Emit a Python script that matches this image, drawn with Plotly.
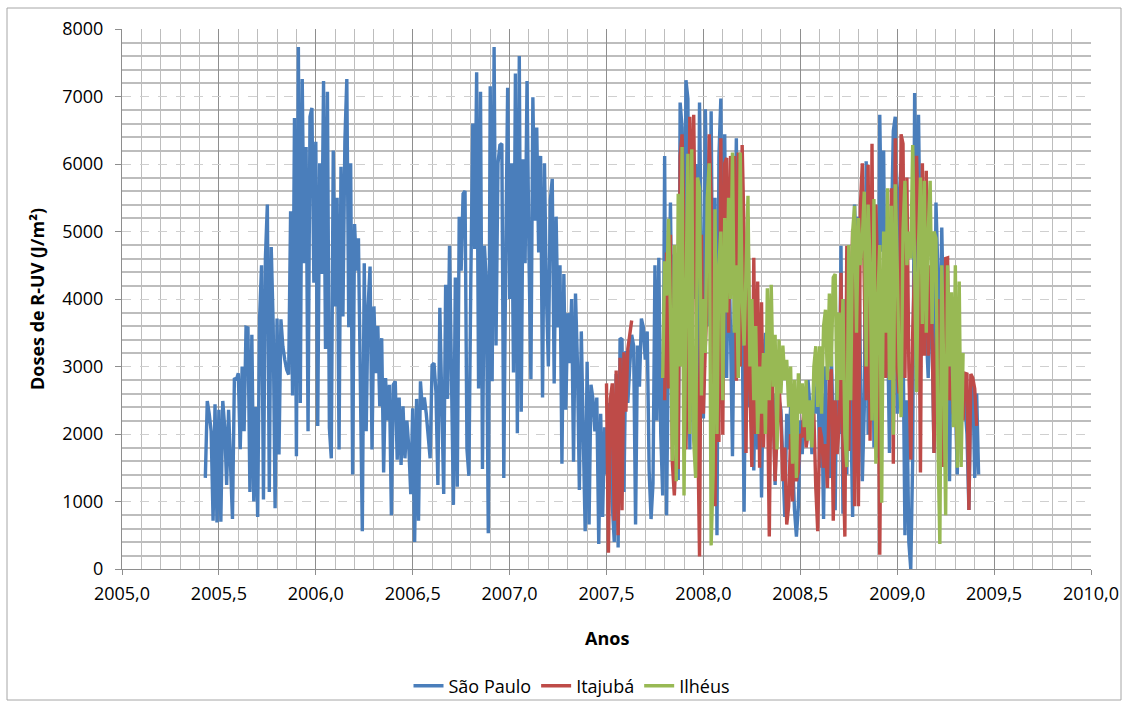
import numpy as np
import plotly.graph_objects as go

# Daily R-UV doses (J/m²), sampled every 0.01 year
STEP = 0.01

sao_paulo_start = 2005.43
sao_paulo = [
    1350, 2490, 2300, 2040, 715, 2440, 690, 2360, 700, 2490,
    2100, 1245, 2360, 1600, 740, 2830, 2800, 2900, 1775, 3000,
    2040, 3580, 3570, 1140, 3470, 1000, 2400, 770, 3710, 4500,
    1030, 4610, 5400, 1140, 4770, 3630, 900, 3710, 1695, 3700,
    3300, 3100, 2950, 2880, 5300, 2570, 6680, 1670, 7735, 2460,
    7260, 4530, 6250, 2040, 6700, 6830, 4240, 6330, 2120, 6010,
    4370, 7230, 3260, 7070, 2090,
    1640, 6200, 3890, 5500, 1770, 5960, 3740, 6330, 7260, 3580,
    6010, 1400, 5110, 4420, 4900, 3050, 560, 4530, 2040, 3900,
    4480, 1770, 3890, 2900, 3600, 2410, 3420, 1430, 2830, 2200,
    2730, 795, 2730, 2780, 1620, 2540, 1540, 2410, 1640, 2200,
    1800, 1110, 2380, 400, 2520, 715, 2780, 2360, 2540, 2300,
    1900, 1640, 3020, 3050, 2620, 1245, 3870, 2500, 1110, 4210,
    2520, 4790, 2800, 950, 4320, 1220, 5220, 4420, 5560,
    5600, 1775, 1380, 4300, 6600, 4740, 7360, 2675, 7070, 1480,
    4790, 4260, 530, 7150, 2780, 7735, 3310, 6010, 6280, 6300,
    1350, 4640, 7130, 4000, 6010, 2910, 7340, 2010, 7600, 2330,
    6070, 4530, 7230, 4640, 2810, 6990, 5160, 6540, 4690, 6120,
    2540, 6010, 4070, 3000, 5460, 5780, 2750, 5220, 3580, 4500,
    1560, 4370, 2360, 3790, 3050, 4000, 1590, 4080, 3050, 1170,
    3520, 1990, 560, 3070, 660, 2730, 2520, 2040, 2540, 370,
    2300,
    770, 2100, 1400, 2460, 1950, 950, 400, 2890, 320, 3420,
    3400, 1140, 3230, 2460, 3000, 3470, 3310, 660, 3310, 2700,
    3710, 3580, 3100, 3520, 1460, 740, 1270, 4500, 2200, 4610,
    2000, 1090, 6120, 795, 3520, 5430, 2830, 4660, 2150, 1320,
    6910, 6540, 3520, 7240, 6970, 1770, 5500, 4000, 6000, 2500,
    6910, 4500, 2230, 6810, 5050, 3600, 6780, 3000, 5500, 500,
    6100, 6970, 3800, 6440, 2830, 5000, 3500, 1670, 4160,
    6380, 3000, 6010, 3630, 850, 4000, 2400, 3500, 2730, 1460,
    3300, 1770, 3300, 1060, 3000, 3500, 2000, 2700, 2000, 2600,
    1245, 2800, 2500, 2360, 1500, 770, 2300, 1770, 2400, 1500,
    875, 480, 930, 2200, 1700, 2500, 1900, 2800, 2400, 1700,
    2700, 2300, 3000, 1500, 2600, 740, 3000, 1500, 1350, 3200,
    2200, 870, 3500, 2000, 4790, 820, 4000, 1400, 3500, 2500,
    770, 5400, 4500, 5220, 3000, 1300, 2360, 6040, 1990, 4800,
    5500, 1800, 4200, 1650, 6730, 4700, 6200, 3000, 3740, 1720,
    5000, 6490, 6700, 2300, 5500, 6000, 3500, 500, 2500, 400,
    0, 1650, 7050, 4400, 6730, 4400, 5500, 5700, 3500, 2830,
    4000, 3500, 1720, 5430, 4400, 3000, 5060, 3500, 4000, 2500,
    1300, 3800, 4000, 2500, 1400, 3050, 2500, 2800, 2300, 2000,
    875, 2700, 2810, 1350, 2600, 1400,
]

itajuba_start = 2007.50
itajuba = [
    2750, 240, 2520, 2750, 715, 2940, 500, 3130, 870, 3210,
    2330, 3260, 3470, 3680,
    None, None, None, None, None, None, None, None,
    None, None, None, None, None, None, None, None,
    2500, 4690, 2675, 4950, 1560, 1090, 1770, 1480, 6120, 6440,
    5050, 1770, 3500, 6700, 5000, 6730, 4420, 1770, 185, 4950,
    2300, 3310, 4000, 6440, 5500, 1560, 930, 4000, 1880, 6380,
    1990, 6010, 6090, 3500, 6120, 4420, 6120,
    2790, 6170, 3000, 6280, 4950, 1720, 5220, 2730, 1510, 4610,
    2000, 4260, 1500, 3950, 1800, 3000, 2800, 480, 3260, 2100,
    1300, 2000, 2750, 2200, 1300, 1800, 660, 930, 2000, 1000,
    2200, 1300, 1450, 2000, 1950, 2500, 1800, 2000, 2410, 1900,
    2300, 1200, 560, 2100, 1950, 1500, 1850, 1200, 2800, 2960,
    715, 2500, 1700, 2100, 4390, 1750, 480, 4790, 1750, 3600,
    5030, 930, 5030, 930, 5380, 6010, 3900, 2500, 5990, 1900,
    6300, 2300, 5400, 4200, 210, 3800, 4500, 2830, 4000, 2830,
    5640, 1560, 6380, 3000, 2600, 6440, 6300, 2830, 5800, 3000,
    1620, 3500, 4530, 6120, 5000, 1430, 6010, 3160, 5900, 3160,
    4500, 3500, 1720, 3300, 4000, 2200, 3500, 1510, 4600, 4610,
    2500, 2830, 2300, 2800, 1770, 2500, 2600, 2200, 2900, 2890,
    875, 2890, 2830, 2670, 2120,
]

ilheus_start = 2007.79
ilheus = [
    2830, 4560, 4050, 5190, 3790, 1600, 4800, 1300, 5560, 3000,
    6250, 1090, 4000, 6150, 2000, 6220, 1900, 1350, 5800, 5640,
    2570, 4000, 3200, 5500, 6010, 350, 1400, 5330, 2000, 4500,
    5000, 2500, 5200, 3800, 5500, 4000, 6170, 3500,
    4500, 2830, 6170, 4000, 3310, 4500, 5530, 3000, 4000, 2500,
    3600, 2000, 3000, 2300, 3200, 2000, 4160, 2500, 4210, 2700,
    3470, 1770, 3400, 2600, 3310, 2800, 3100, 2400, 3000, 1560,
    2800, 1350, 2900, 2300, 2750, 2100, 2800, 1900, 2500, 1800,
    3000, 3300, 2400, 3300, 2300, 3600, 3840, 2800, 4080, 3000,
    4320, 4370, 2500, 3800, 2800, 4000, 2000, 1510, 4800, 2500,
    5000, 5380, 3500, 5200, 4500, 4900, 5590, 3000, 5400, 4500,
    2200, 5480, 1560, 4000, 4800, 980, 5000, 3500, 5640, 2800,
    5380, 1990, 5700, 4500, 3000, 2250, 5000, 5750, 4500, 5000,
    4600, 6280, 4500, 2620, 4800, 5800, 3630, 5750, 3500, 5000,
    5750, 3630, 5000, 4900, 1900, 370, 4500, 3000, 795, 4500,
    3000, 4100, 2100, 4500, 1500, 4260, 1510, 3200,
]

series = [
    ("São Paulo", sao_paulo_start, sao_paulo, "#4A7EBB"),
    ("Itajubá", itajuba_start, itajuba, "#BE4B48"),
    ("Ilhéus", ilheus_start, ilheus, "#98B954"),
]

FONT = "Open Sans, Liberation Sans, sans-serif"
GRID_MAJOR_X = "#8E8E8E"
GRID_MINOR = "#BDBDBD"
AXIS = "#8E8E8E"

W, H = 1129, 707

fig = go.Figure()
for name, start, values, color in series:
    years = np.round(start + STEP * np.arange(len(values)), 4)
    fig.add_trace(go.Scatter(
        x=years, y=values, name=name, mode="lines",
        line=dict(color=color, width=3.4),
        connectgaps=False,
    ))

fig.update_layout(
    width=W, height=H, autosize=False,
    margin=dict(l=122, r=38, t=29, b=138, autoexpand=False),
    paper_bgcolor="white", plot_bgcolor="white",
    separators=", ",
    font=dict(family=FONT, size=18, color="#000000"),
    showlegend=True,
    legend=dict(
        orientation="h",
        xref="container", x=572 / W, xanchor="center",
        yref="container", y=1 - 686 / H, yanchor="middle",
        font=dict(size=18), itemwidth=30, tracegroupgap=0,
        bgcolor="rgba(0,0,0,0)",
    ),
)

fig.update_xaxes(
    range=[2005, 2010], tick0=2005, dtick=0.5, tickformat=".1f",
    showgrid=True, gridcolor=GRID_MAJOR_X, gridwidth=1, griddash="solid",
    minor=dict(dtick=0.1, tick0=2005, showgrid=True,
               gridcolor=GRID_MINOR, gridwidth=1, griddash="solid"),
    ticks="outside", ticklen=5, tickcolor=AXIS, tickwidth=1,
    showline=True, linecolor=AXIS, linewidth=1,
    zeroline=False, ticklabelstandoff=3,
    tickfont=dict(size=18),
)

fig.update_yaxes(
    range=[0, 8000], tick0=0, dtick=1000, tickformat="d",
    showgrid=True, gridcolor="#CFCFCF", gridwidth=1, griddash="dash",
    minor=dict(dtick=200, tick0=0, showgrid=True,
               gridcolor=GRID_MINOR, gridwidth=1.5, griddash="solid"),
    ticks="outside", ticklen=6, tickcolor=AXIS, tickwidth=1,
    showline=True, linecolor=AXIS, linewidth=1,
    zeroline=False, ticklabelstandoff=8,
    tickfont=dict(size=18),
)

# Axis titles
fig.add_annotation(
    text="<b>Anos</b>", xref="paper", yref="paper",
    x=0.5, y=-0.127, xanchor="center", yanchor="middle",
    showarrow=False, font=dict(size=18),
)
fig.add_annotation(
    text="<b>Doses de R-UV (J/m²)</b>", xref="paper", yref="paper",
    x=-0.0877, y=0.5, xanchor="center", yanchor="middle",
    textangle=-90, showarrow=False, font=dict(size=18),
)

# Chart frame
fig.add_shape(
    type="rect", xref="paper", yref="paper",
    x0=(7 - 122) / 969, x1=(1121 - 122) / 969,
    y0=(569 - 700) / 540, y1=(569 - 8) / 540,
    line=dict(color="#A6A6A6", width=1), fillcolor="rgba(0,0,0,0)",
    layer="below",
)

fig.write_html("out.html", config={"displayModeBar": False})
